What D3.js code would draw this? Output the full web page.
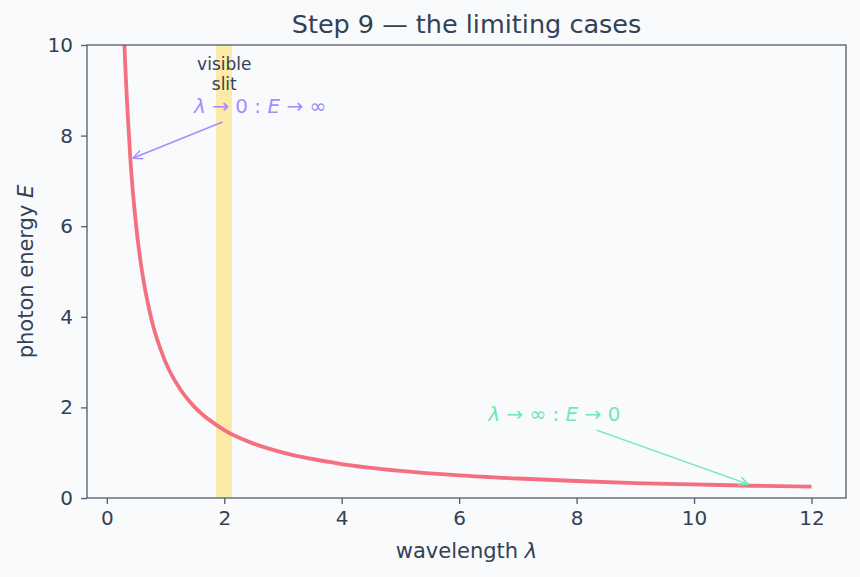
<!DOCTYPE html>
<html>
<head>
<meta charset="utf-8">
<script src="https://cdn.jsdelivr.net/npm/d3@7"></script>
<style>
  body { margin: 0; background: #f8fafc; }
  svg { display: block; font-family: "DejaVu Sans", sans-serif; }
</style>
</head>
<body>
<div id="chart"></div>
<script>
// values (photon energy vs wavelength)
var lambdas = [0.25, 0.3, 0.35, 0.4, 0.5, 0.6, 0.75, 1, 1.25, 1.5, 2, 2.5, 3, 4, 5, 6, 7, 8, 9, 10, 11, 12];
var energies = [12, 10, 8.6, 7.5, 6, 5, 4, 3, 2.4, 2, 1.5, 1.2, 1, 0.75, 0.6, 0.5, 0.43, 0.375, 0.33, 0.3, 0.27, 0.25];
var xTicks = [0, 2, 4, 6, 8, 10, 12];
var yTicks = [0, 2, 4, 6, 8, 10];
var slitBand = [1.86, 2.13];
var arrowSmall = { from: [1.97, 8.3], to: [0.44, 7.5] };
var arrowLarge = { from: [8.34, 1.5], to: [10.93, 0.3] };

var W = 860, H = 577;
var margin = { top: 45, right: 14, bottom: 79, left: 87 },
    width = W - margin.left - margin.right,
    height = H - margin.top - margin.bottom;

var ink = "#334155", spine = "#555b6e";

var svg = d3.select("#chart").append("svg")
    .attr("width", W).attr("height", H);

svg.append("rect").attr("width", W).attr("height", H).attr("fill", "#f8fafc");

var g = svg.append("g")
    .attr("transform", "translate(" + margin.left + "," + margin.top + ")");

var x = d3.scaleLinear().domain([-0.3375, 12.5875]).range([0, width]);
var y = d3.scaleLinear().domain([0, 10]).range([height, 0]);

g.append("defs").append("clipPath").attr("id", "clip")
  .append("rect").attr("width", width).attr("height", height);

var defs = svg.append("defs");
function marker(id, color) {
    defs.append("marker").attr("id", id)
        .attr("viewBox", "0 0 10 10").attr("refX", 10).attr("refY", 5)
        .attr("markerWidth", 10).attr("markerHeight", 10)
        .attr("markerUnits", "userSpaceOnUse")
        .attr("orient", "auto")
      .append("path").attr("d", "M0,0.5 L10,5 L0,9.5")
        .attr("fill", "none").attr("stroke", color).attr("stroke-width", 1.4);
}
marker("headPurple", "#a78bfa");
marker("headGreen", "#6ee7b7");

// visible slit
g.append("rect")
    .attr("x", x(slitBand[0]))
    .attr("width", x(slitBand[1]) - x(slitBand[0]))
    .attr("y", 0).attr("height", height)
    .attr("fill", "#fdeaa6");

// curve
var pts = lambdas.map(function(l, i) { return [l, energies[i]]; });
g.append("path")
    .datum(pts)
    .attr("clip-path", "url(#clip)")
    .attr("fill", "none")
    .attr("stroke", "#f4707f")
    .attr("stroke-width", 3.8)
    .attr("d", d3.line()
        .x(function(d) { return x(d[0]); })
        .y(function(d) { return y(d[1]); })
        .curve(d3.curveMonotoneX));

// axes
var xAxis = g.append("g")
    .attr("transform", "translate(0," + height + ")")
    .call(d3.axisBottom(x).tickValues(xTicks).tickSize(6).tickPadding(7));
var yAxis = g.append("g")
    .call(d3.axisLeft(y).tickValues(yTicks).tickSize(6).tickPadding(8));
[xAxis, yAxis].forEach(function(a) {
    a.select(".domain").remove();
    a.selectAll("line").attr("stroke", spine).attr("stroke-width", 1.3);
    a.selectAll("text").attr("fill", ink).style("font-size", "20px")
        .style("font-family", "DejaVu Sans, sans-serif");
});

// frame
g.append("rect").attr("width", width).attr("height", height)
    .attr("fill", "none").attr("stroke", spine).attr("stroke-width", 1.3);

// annotations
g.append("text").attr("x", x(2)).attr("y", 25)
    .attr("text-anchor", "middle").attr("fill", ink).style("font-size", "17px")
    .text("visible");
g.append("text").attr("x", x(2)).attr("y", 45)
    .attr("text-anchor", "middle").attr("fill", ink).style("font-size", "17px")
    .text("slit");

function mathLabel(tx, ty, parts, color) {
    var t = g.append("text").attr("x", tx).attr("y", ty)
        .attr("text-anchor", "middle").attr("fill", color)
        .style("font-size", "20px");
    parts.forEach(function(p) {
        t.append("tspan").text(p[0])
            .style("font-style", p[1] ? "italic" : "normal");
    });
}
mathLabel(x(2.61), 68, [["λ", 1], [" → 0 : ", 0], ["E", 1], [" → ∞", 0]], "#a78bfa");
mathLabel(x(7.62), 376, [["λ", 1], [" → ∞ : ", 0], ["E", 1], [" → 0", 0]], "#6ee7b7");

g.append("line")
    .attr("x1", x(arrowSmall.from[0])).attr("y1", y(arrowSmall.from[1]))
    .attr("x2", x(arrowSmall.to[0])).attr("y2", y(arrowSmall.to[1]))
    .attr("stroke", "#a78bfa").attr("stroke-width", 1.4)
    .attr("marker-end", "url(#headPurple)");
g.append("line")
    .attr("x1", x(arrowLarge.from[0])).attr("y1", y(arrowLarge.from[1]))
    .attr("x2", x(arrowLarge.to[0])).attr("y2", y(arrowLarge.to[1]))
    .attr("stroke", "#6ee7b7").attr("stroke-width", 1.4)
    .attr("marker-end", "url(#headGreen)");

// titles
svg.append("text").attr("x", margin.left + width / 2).attr("y", 33)
    .attr("text-anchor", "middle").attr("fill", ink).style("font-size", "25.5px")
    .text("Step 9 — the limiting cases");
svg.append("text").attr("x", margin.left + width / 2).attr("y", 558)
    .attr("text-anchor", "middle").attr("fill", ink).style("font-size", "21px")
    .text("wavelength ").append("tspan").style("font-style", "italic").text("λ");
var yl = svg.append("text")
    .attr("transform", "translate(33," + (margin.top + height / 2) + ") rotate(-90)")
    .attr("text-anchor", "middle").attr("fill", ink).style("font-size", "21px")
    .text("photon energy ");
yl.append("tspan").style("font-style", "italic").text("E");
</script>
</body>
</html>
